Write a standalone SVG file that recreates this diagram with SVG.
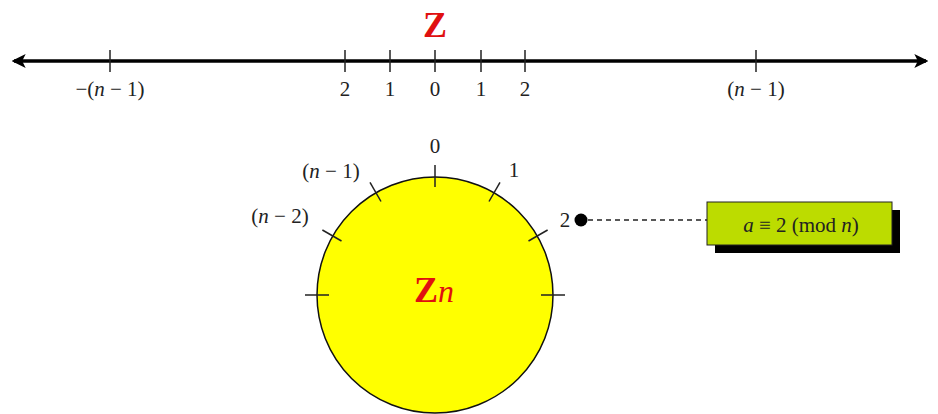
<svg xmlns="http://www.w3.org/2000/svg" width="938" height="414" viewBox="0 0 938 414">
<style>
.lbl{font-family:"Liberation Serif",serif;font-size:21px;fill:#222;text-anchor:middle}
.tick{stroke:#222;stroke-width:1.5}
.red{font-family:"Liberation Serif",serif;fill:#e01010;font-weight:bold}
</style>
<defs>
<marker id="arr" viewBox="0 0 12 12" refX="10" refY="6" markerWidth="4" markerHeight="4" orient="auto-start-reverse">
<path d="M0,0 L12,6 L0,12 L3,6 Z" fill="#000"/>
</marker>
</defs>
<rect width="938" height="414" fill="#fff"/>
<g id="numberline">
<line x1="14" y1="61" x2="926" y2="61" stroke="#000" stroke-width="3.5" marker-start="url(#arr)" marker-end="url(#arr)"/>
<g class="tick">
<line x1="110" y1="50" x2="110" y2="72"/>
<line x1="345" y1="50" x2="345" y2="72"/>
<line x1="390" y1="50" x2="390" y2="72"/>
<line x1="435" y1="50" x2="435" y2="72"/>
<line x1="481" y1="50" x2="481" y2="72"/>
<line x1="525" y1="50" x2="525" y2="72"/>
<line x1="756" y1="50" x2="756" y2="72"/>
</g>
<text class="lbl" x="110" y="96" xml:space="preserve">−(<tspan font-style="italic">n</tspan> − 1)</text>
<text class="lbl" x="345" y="96">2</text>
<text class="lbl" x="390" y="96">1</text>
<text class="lbl" x="435" y="96">0</text>
<text class="lbl" x="481" y="96">1</text>
<text class="lbl" x="525" y="96">2</text>
<text class="lbl" x="756" y="96">(<tspan font-style="italic">n</tspan> − 1)</text>
<text class="red" x="435" y="37" font-size="36" text-anchor="middle">Z</text>
</g>
<g id="circle">
<circle cx="435" cy="295" r="118" fill="#ffff00" stroke="#111" stroke-width="1.5"/>
<g class="tick">
<line x1="435" y1="165" x2="435" y2="187"/>
<line x1="500" y1="182.4" x2="489" y2="201.5"/>
<line x1="547.6" y1="230" x2="528.5" y2="241"/>
<line x1="565" y1="295" x2="541" y2="295"/>
<line x1="370" y1="182.4" x2="381" y2="201.5"/>
<line x1="322.4" y1="230" x2="341.5" y2="241"/>
<line x1="305" y1="295" x2="329" y2="295"/>
</g>
<text class="lbl" x="435" y="153">0</text>
<text class="lbl" x="514" y="177">1</text>
<text class="lbl" x="565" y="227">2</text>
<text class="lbl" x="331" y="178">(<tspan font-style="italic">n</tspan> − 1)</text>
<text class="lbl" x="280" y="223">(<tspan font-style="italic">n</tspan> − 2)</text>
<text class="red" x="414" y="302" font-size="36">Z<tspan font-style="italic" font-weight="normal" font-size="32">n</tspan></text>
</g>
<g id="connectors">
<circle cx="581" cy="220" r="6.5" fill="#000"/>
<line x1="588" y1="220" x2="707" y2="220" stroke="#222" stroke-width="1.3" stroke-dasharray="5,4"/>
</g>
<g id="congruence">
<rect x="715" y="210" width="185" height="43" fill="#000"/>
<rect x="707" y="202" width="185" height="43" fill="#bcdc00" stroke="#222" stroke-width="1"/>
<text class="lbl" x="801" y="232" font-size="22"><tspan font-style="italic">a</tspan> ≡ 2 (mod <tspan font-style="italic">n</tspan>)</text>
</g>
</svg>
